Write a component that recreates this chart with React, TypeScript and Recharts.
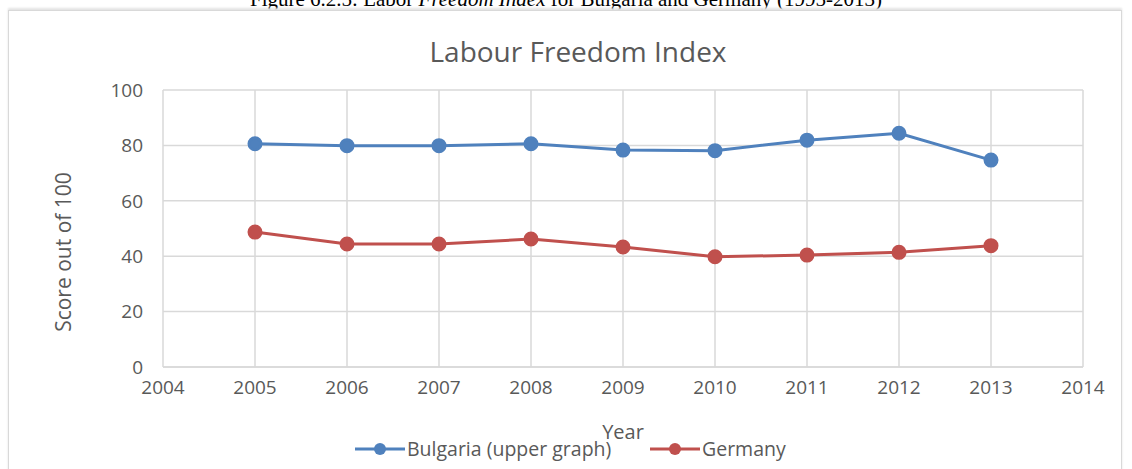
import { LineChart, Line, XAxis, YAxis, CartesianGrid } from "recharts";

const years = [2005, 2006, 2007, 2008, 2009, 2010, 2011, 2012, 2013];
const bulgaria = [80.6, 79.9, 79.9, 80.6, 78.3, 78.1, 81.9, 84.4, 74.7];
const germany = [48.7, 44.4, 44.4, 46.2, 43.3, 39.8, 40.4, 41.4, 43.8];
const xTicks = [2004, 2005, 2006, 2007, 2008, 2009, 2010, 2011, 2012, 2013, 2014];
const yTicks = [0, 20, 40, 60, 80, 100];

const BLUE = "#4f81bd";
const RED = "#c0504d";
const GREY = "#595959";
const FONT = "'Open Sans', 'Noto Sans', sans-serif";

const data = years.map((year, i) => ({ year, bulgaria: bulgaria[i], germany: germany[i] }));

const legendItems = [
  { label: "Bulgaria (upper graph)", color: BLUE, left: 355 },
  { label: "Germany", color: RED, left: 650 },
];

export default function App() {
  return (
    <div style={{ position: "absolute", left: 0, top: 0, width: 1132, height: 469, background: "#fff", overflow: "hidden", fontFamily: FONT }}>
      <div style={{ position: "absolute", top: -13, left: 0, width: 1132, textAlign: "center", fontFamily: "'Liberation Serif', serif", fontSize: 21, color: "#000" }}>
        Figure 6.2.5: Labor <i>Freedom Index</i> for Bulgaria and Germany (1995-2013)
      </div>
      <div style={{ position: "absolute", left: 8, top: 10, width: 1112, height: 470, border: "1px solid #d9d9d9", boxShadow: "0 -2px 2px #e4e4e4" }} />
      <div style={{ position: "absolute", top: 32, left: 0, width: 1156, textAlign: "center", fontSize: 28, color: GREY }}>
        Labour Freedom Index
      </div>
      <div style={{ position: "absolute", left: 63, top: 252, transform: "translate(-50%, -50%) rotate(-90deg)", whiteSpace: "nowrap", fontSize: 21, color: GREY }}>
        Score out of 100
      </div>
      <div style={{ position: "absolute", left: 0, top: 0 }}>
        <LineChart width={1132} height={469} data={data} margin={{ top: 90, right: 49, left: 103, bottom: 27 }}>
          <CartesianGrid stroke="#d9d9d9" strokeWidth={1.5} verticalValues={xTicks} />
          <XAxis
            dataKey="year"
            type="number"
            domain={[2004, 2014]}
            ticks={xTicks}
            interval={0}
            height={75}
            axisLine={{ stroke: "#d9d9d9", strokeWidth: 1.5 }}
            tickLine={false}
            tick={{ fill: GREY, fontSize: 19, fontFamily: FONT }}
            tickMargin={8}
            label={{ value: "Year", position: "insideBottom", offset: 3, fill: GREY, fontSize: 20, fontFamily: FONT }}
          />
          <YAxis
            type="number"
            domain={[0, 100]}
            ticks={yTicks}
            width={60}
            axisLine={false}
            tickLine={false}
            tick={{ fill: GREY, fontSize: 19, fontFamily: FONT }}
            tickMargin={14}
          />
          <Line dataKey="bulgaria" stroke={BLUE} strokeWidth={3} dot={{ r: 6, fill: BLUE, stroke: BLUE }} isAnimationActive={false} />
          <Line dataKey="germany" stroke={RED} strokeWidth={3} dot={{ r: 6, fill: RED, stroke: RED }} isAnimationActive={false} />
        </LineChart>
      </div>
      {legendItems.map((item) => (
        <div key={item.label} style={{ position: "absolute", left: item.left, top: 435, display: "flex", alignItems: "center", fontSize: 19.5, color: GREY }}>
          <svg width={52} height={16}>
            <line x1={0} y1={8} x2={50} y2={8} stroke={item.color} strokeWidth={3} />
            <circle cx={25} cy={8} r={6} fill={item.color} />
          </svg>
          <span>{item.label}</span>
        </div>
      ))}
    </div>
  );
}
